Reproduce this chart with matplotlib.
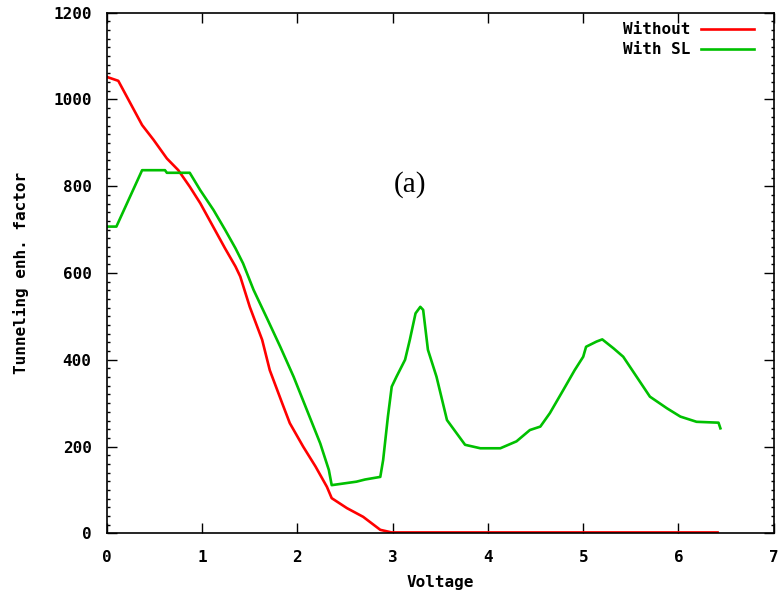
import matplotlib
matplotlib.use("Agg")
import matplotlib.pyplot as plt
from matplotlib.ticker import MultipleLocator

# red: without superlattice
v_without = [0.0, 0.12, 0.37, 0.49, 0.63, 0.75, 0.87, 0.98, 1.12, 1.24, 1.35, 1.40,
             1.50, 1.63, 1.71, 1.84, 1.92, 2.06, 2.19, 2.31, 2.36, 2.52, 2.69, 2.87,
             2.99, 4.0, 5.0, 6.41]
t_without = [1052, 1043, 941, 907, 864, 837, 799, 761, 705, 657, 615, 592,
             522, 446, 376, 300, 254, 200, 154, 107, 81, 58, 38, 8,
             2, 2, 2, 2]

# green: with SL
v_sl = [0.0, 0.10, 0.37, 0.61, 0.63, 0.87, 0.98, 1.12, 1.24, 1.35, 1.43, 1.54,
        1.68, 1.82, 1.96, 2.10, 2.24, 2.33, 2.36, 2.62, 2.71, 2.87, 2.90, 2.95,
        2.99, 3.04, 3.13, 3.18, 3.24, 3.29, 3.32, 3.37, 3.46, 3.57, 3.67, 3.76,
        3.92, 4.13, 4.30, 4.44, 4.55, 4.65, 4.79, 4.91, 5.00, 5.03, 5.14, 5.20,
        5.32, 5.42, 5.56, 5.70, 5.88, 6.02, 6.19, 6.42, 6.44]
t_sl = [707, 707, 837, 837, 831, 831, 791, 745, 700, 657, 622, 561,
        496, 430, 361, 284, 207, 146, 111, 119, 124, 130, 169, 269,
        338, 361, 400, 446, 507, 522, 515, 423, 361, 261, 231, 204,
        196, 196, 212, 238, 246, 277, 330, 376, 407, 430, 442, 447,
        426, 407, 361, 315, 288, 269, 257, 255, 242]

mono = dict(family="DejaVu Sans Mono", weight="bold", size=11.5)

fig = plt.figure(figsize=(7.8, 5.97), dpi=100)
ax = fig.add_axes([0.137, 0.1067, 0.855, 0.872])

ax.plot(v_without, t_without, color="#ff0000", lw=1.9, label="Without")
ax.plot(v_sl, t_sl, color="#00c000", lw=1.9, label="With SL")

ax.set_xlim(0, 7)
ax.set_ylim(0, 1200)
ax.xaxis.set_major_locator(MultipleLocator(1))
ax.yaxis.set_major_locator(MultipleLocator(200))
ax.yaxis.set_minor_locator(MultipleLocator(20))
ax.tick_params(which="both", direction="in", top=True, right=True, width=1.0)
ax.tick_params(which="major", length=7)
ax.tick_params(axis="y", which="major", pad=11)
ax.tick_params(axis="x", which="major", pad=12)
ax.tick_params(which="minor", length=2.5)
ax.tick_params(axis="x", which="minor", bottom=False, top=False)
for lab in ax.get_xticklabels() + ax.get_yticklabels():
    lab.set_fontproperties(matplotlib.font_manager.FontProperties(**mono))
for s in ax.spines.values():
    s.set_linewidth(1.2)

ax.set_xlabel("Voltage", fontdict=mono, labelpad=7)
ax.set_ylabel("Tunneling enh. factor", fontdict=mono, labelpad=17)

ax.text(3.18, 803, "(a)", family="Liberation Serif", fontsize=21, ha="center", va="center")

leg = ax.legend(loc="upper right", markerfirst=False, frameon=False,
                prop=matplotlib.font_manager.FontProperties(**mono),
                handlelength=3.3, handletextpad=0.7, labelspacing=0.3,
                borderaxespad=0.2, bbox_to_anchor=(0.985, 1.0))

fig.savefig("out.png", dpi=100)
